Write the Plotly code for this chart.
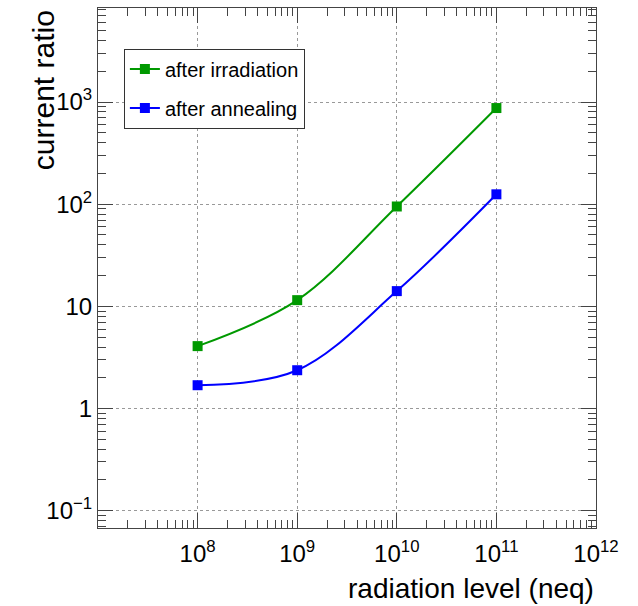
import plotly.graph_objects as go

radiation = [1e8, 1e9, 1e10, 1e11]
after_irradiation = [4.08, 11.5, 95, 874]
after_annealing = [1.69, 2.37, 14.1, 125]

x_tickvals = [1e8, 1e9, 1e10, 1e11, 1e12]
x_ticktext = ["10<sup>8</sup>", "10<sup>9</sup>", "10<sup>10</sup>", "10<sup>11</sup>", "10<sup>12</sup>"]
y_tickvals = [0.1, 1, 10, 100, 1000]
y_ticktext = ["10<sup>\u22121</sup>", "1", "10", "10<sup>2</sup>", "10<sup>3</sup>"]

x_minor = [m * 10**k for k in range(7, 12) for m in range(2, 10)]
y_minor = [m * 10.0**k for k in range(-2, 4) for m in range(2, 10)]

GREEN = "#009900"
BLUE = "#0000ff"
FONT = "Liberation Sans, Arial, sans-serif"

fig = go.Figure()
fig.add_trace(go.Scatter(
    x=radiation, y=after_irradiation, name="after irradiation",
    mode="lines+markers", legendgroup="a",
    line=dict(color=GREEN, width=2, shape="spline", smoothing=1.0),
    marker=dict(symbol="square", size=10, color=GREEN),
))
fig.add_trace(go.Scatter(
    x=radiation, y=after_annealing, name="after annealing",
    mode="lines+markers", legendgroup="b",
    line=dict(color=BLUE, width=2, shape="spline", smoothing=1.0),
    marker=dict(symbol="square", size=10, color=BLUE),
))

axis_common = dict(
    showline=True, linecolor="#444", linewidth=1, mirror="allticks",
    ticks="inside", ticklen=15, tickcolor="#444", tickwidth=1,
    showgrid=True, gridcolor="#999", griddash="dot", gridwidth=1,
    zeroline=False, tickfont=dict(family=FONT, size=24, color="black"),
)

fig.update_xaxes(
    type="log", range=[7, 12], tickmode="array",
    tickvals=x_tickvals, ticktext=x_ticktext, ticklabelstandoff=4,
    minor=dict(ticks="inside", ticklen=8, tickcolor="#444", tickvals=x_minor, showgrid=False),
    **axis_common,
)
fig.update_yaxes(
    type="log", range=[-1.17, 3.921], tickmode="array",
    tickvals=y_tickvals, ticktext=y_ticktext,
    minor=dict(ticks="inside", ticklen=8, tickcolor="#444", tickvals=y_minor, showgrid=False),
    **axis_common,
)

fig.add_annotation(
    text="radiation level (neq)", xref="paper", yref="paper",
    x=1.0, y=-0.116, xanchor="right", yanchor="middle", showarrow=False,
    font=dict(family=FONT, size=28, color="black"),
)
fig.add_annotation(
    text="current ratio", xref="paper", yref="paper",
    x=-0.110, y=1.0, xanchor="center", yanchor="top", showarrow=False,
    textangle=-90, font=dict(family=FONT, size=30, color="black"),
)

fig.update_layout(
    width=638, height=606,
    margin=dict(l=98, r=42, t=8, b=78),
    paper_bgcolor="white", plot_bgcolor="white",
    showlegend=True,
    legend=dict(
        x=0.052, y=0.922, xanchor="left", yanchor="top",
        bordercolor="#333", borderwidth=1, bgcolor="white",
        font=dict(family=FONT, size=20, color="black"),
        tracegroupgap=10, traceorder="grouped", itemwidth=30,
    ),
)

fig.write_html("out.html")
